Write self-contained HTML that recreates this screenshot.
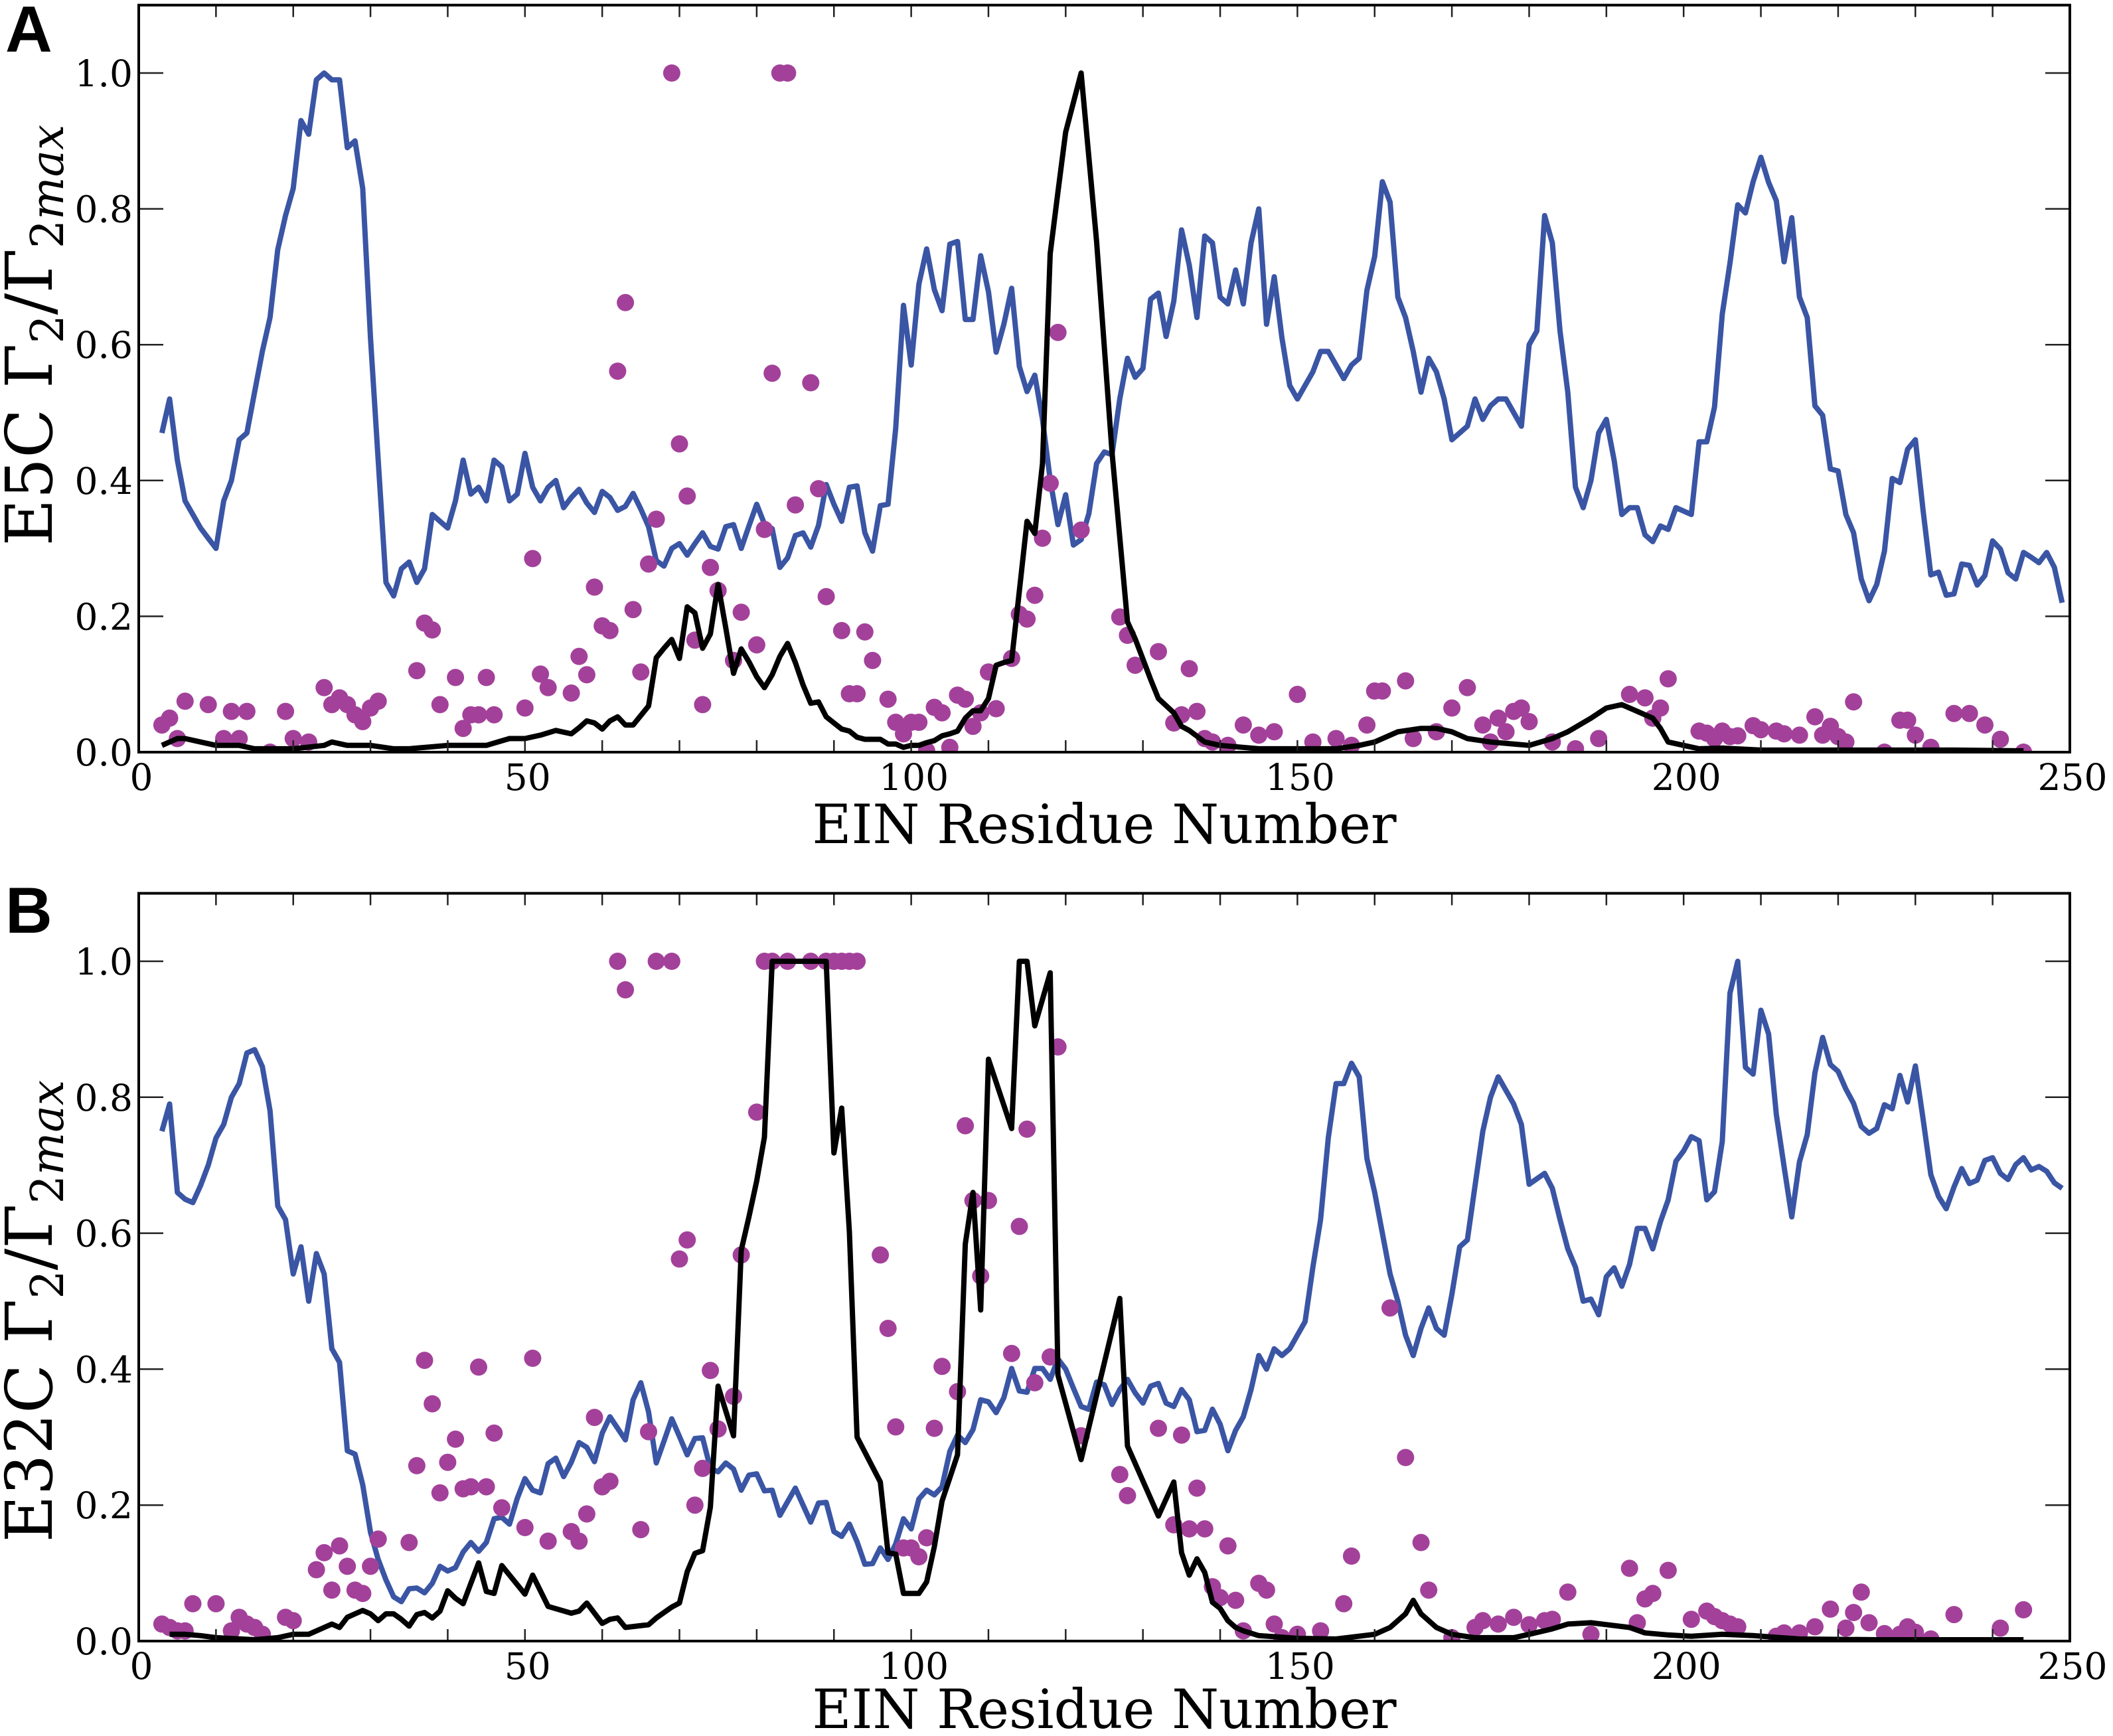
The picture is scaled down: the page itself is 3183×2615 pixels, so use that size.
<!DOCTYPE html>
<html><head><meta charset="utf-8"><style>
html,body{margin:0;padding:0;background:#fff;}
svg{display:block;}
text{font-family:"DejaVu Serif","Liberation Serif",serif;fill:#000;}
</style></head><body>
<svg id="fig" width="3183" height="2615" viewBox="0 0 3183 2615" xmlns="http://www.w3.org/2000/svg"></svg>
<script>
// ---------- Data ----------
const xTicksMajor = [0, 50, 100, 150, 200, 250];
const yTickLabels = ["0.0", "0.2", "0.4", "0.6", "0.8", "1.0"];
const yTickValues = [0, 0.2, 0.4, 0.6, 0.8, 1.0];

const blueAStart = 3;
const blueAVal = [.47,.52,.43,.37,.35,.33,.315,.30,.37,.40,.46,.47,.53,.59,.64,.74,.79,.83,.93,.91,.99,1.0,.99,.99,.89,.90,.83,.61,.43,.25,.23,.27,.28,.25,.27,.35,.34,.33,.37,.43,.38,.39,.37,.43,.42,.37,.38,.44,.39,.37,.39,
.40,.36,.375,.387,.367,.353,.384,.375,.356,.362,.381,.358,.332,.282,.274,.30,.307,.29,.307,.323,.303,.299,.332,.335,.30,.333,.365,.336,.329,.272,.286,.319,.323,.302,.334,.394,.365,.34,.39,.392,.323,.296,.363,.365,.477,.658,.57,.689,.741,.681,.65,.748,.752,.637,.637,.731,.678,.589,.63,.683,.568,.531,.555,.49,.401,.335,.379,.305,.313,.351,.425,.442,.438,.52,.58,.552,.565,.667,.676,.612,.664,.769,.717,
.64,.76,.75,.67,.66,.71,.66,.75,.80,.63,.70,.61,.54,.52,.54,.56,.59,.59,.57,.55,.57,.58,.68,.73,.84,.81,.67,.64,.59,.53,.58,.56,.52,.46,.47,.48,.52,.49,.51,.52,.52,.50,.48,.60,.62,.79,.75,.62,.53,.39,.36,.40,.47,.49,.43,.35,.36,.36,.32,.31,
.333,.328,.36,.355,.35,.457,.457,.508,.645,.72,.806,.794,.84,.876,.839,.812,.722,.787,.67,.64,.51,.496,.417,.414,.35,.323,.255,.223,.247,.296,.403,.397,.446,.46,.356,.261,.265,.231,.233,.277,.275,.246,.26,.311,.299,.264,.255,.294,.287,.279,.294,.272,.22];

const blackARes = [3,5,6,8,10,13,15,20,24,25,27,30,33,35,40,45,48,50,52,54,56,57,58,59,60,61,62,63,64,65,66,67,68,69,70,71,72,73,74,75,76,77,78,79,80,81,82,83,84,85,86,87,88,89,90,91,92,93,94,96,97,98,99,100,101,102,103,104,105,106,107,108,109,110,111,112,113,114,115,116,117,118,119,120,122,124,126,128,129,130,131,132,134,135,136,138,140,145,150,155,158,160,163,166,168,170,172,175,180,183,185,188,190,192,194,196,197,198,200,202,205,210,220,226,235,244];
const blackAVal = [.01,.02,.02,.015,.01,.01,.005,.005,.01,.015,.01,.01,.005,.005,.01,.01,.02,.02,.025,.032,.027,.036,.046,.043,.034,.046,.052,.04,.04,.054,.068,.139,.153,.166,.138,.214,.205,.153,.174,.247,.183,.116,.152,.133,.111,.095,.114,.141,.16,.132,.099,.072,.074,.052,.043,.034,.031,.022,.019,.019,.012,.012,.007,.01,.01,.014,.017,.024,.027,.031,.05,.061,.061,.079,.128,.132,.135,.237,.34,.322,.425,.734,.825,.913,1.0,.752,.442,.192,.167,.137,.107,.079,.058,.038,.032,.015,.01,.005,.005,.005,.01,.015,.03,.035,.035,.03,.02,.015,.01,.02,.03,.05,.065,.07,.06,.05,.035,.015,.01,.005,.006,.003,.003,.003,.003,.002];

const dotsARes = [3,4,5,6,9,11,12,13,14,17,19,20,22,24,25,26,27,28,29,30,31,36,37,38,39,41,42,43,44,45,46,50,51,52,53,56,57,58,59,60,61,62,63,64,65,66,67,69,70,71,72,73,74,75,77,78,80,81,82,83,84,85,87,88,89,91,92,93,94,95,97,98,99,100,101,102,103,104,105,106,107,108,109,110,111,113,114,115,116,117,118,119,122,127,128,129,132,134,135,136,137,138,139,141,143,145,147,150,152,155,157,159,160,161,164,165,168,170,172,174,175,176,177,178,179,180,183,186,189,193,195,196,197,198,202,203,204,205,206,207,209,210,212,213,215,217,218,219,220,221,222,226,228,229,230,232,235,237,239,241,244];
const dotsAVal = [.04,.05,.02,.075,.07,.02,.06,.02,.06,0,.06,.02,.015,.095,.07,.08,.07,.055,.045,.065,.075,.12,.19,.18,.07,.11,.035,.055,.055,.11,.055,.065,.285,.115,.095,.087,.141,.114,.243,.186,.179,.561,.662,.21,.118,.277,.343,1,.454,.377,.165,.07,.272,.238,.135,.206,.158,.328,.558,1,1,.364,.544,.388,.229,.179,.086,.086,.177,.135,.078,.044,.027,.044,.044,.002,.066,.058,.007,.084,.078,.038,.058,.118,.064,.138,.203,.196,.231,.315,.396,.618,.327,.199,.172,.128,.148,.043,.055,.123,.06,.02,.015,.01,.04,.025,.03,.085,.015,.02,.01,.04,.09,.09,.105,.02,.03,.065,.095,.04,.015,.05,.03,.06,.065,.045,.015,.005,.02,.085,.08,.05,.065,.108,.031,.028,.02,.031,.023,.024,.039,.033,.031,.027,.025,.052,.025,.038,.023,.015,.074,0,.047,.047,.025,.007,.057,.057,.04,.019,0];

const blueBStart = 3;
const blueBVal = [.75,.79,.66,.65,.645,.67,.70,.74,.76,.80,.82,.865,.87,.845,.78,.64,.62,.54,.58,.50,.57,.54,.43,.41,.28,.275,.23,.16,.12,.09,.065,
.058,.077,.078,.071,.085,.11,.103,.108,.131,.145,.132,.145,.18,.182,.172,.21,.239,.222,.218,.261,.269,.242,.263,.292,.285,.264,.306,.33,.313,.296,.355,.38,.337,.262,.294,.327,.301,.274,.298,.299,.254,.249,.262,.253,.222,.244,.246,.221,.222,.185,.205,.225,.20,.175,.203,.204,.161,.154,.172,.146,.113,.114,.137,.12,.143,.18,.165,.209,.222,.215,.227,.279,.303,.292,.311,.355,.352,.336,.358,.401,.368,.366,.401,.401,.385,.415,.4,.372,.345,.341,.381,.377,.348,.37,.385,.365,.35,.375,.379,.35,.345,.37,.355,.308,.31,.341,.319,
.28,.31,.33,.37,.42,.40,.43,.42,.43,.45,.47,.55,.62,.74,.82,.82,.85,.83,.71,.66,.60,.54,.50,.45,.42,.46,.49,.46,.45,.51,.58,.59,.67,.75,.80,.83,.81,.79,.76,
.672,.68,.688,.666,.62,.577,.55,.50,.503,.48,.536,.549,.522,.554,.607,.607,.577,.617,.649,.706,.721,.742,.736,.649,.661,.735,.953,1.0,.844,.834,.928,.893,.775,.698,.624,.705,.745,.836,.888,.848,.838,.812,.791,.757,.747,.754,.789,.783,.832,.793,.846,.768,.686,.654,.636,.668,.695,.673,.678,.707,.711,.688,.679,.701,.711,.693,.698,.691,.674,.666];

const blackBRes = [4,6,8,10,15,18,20,22,24,25,26,27,28,29,30,31,32,33,34,35,36,37,38,39,40,41,42,44,45,46,47,50,51,53,56,57,58,60,61,62,63,66,67,69,70,71,72,73,74,75,77,78,79,80,81,82,89,90,91,92,93,96,97,98,99,101,102,103,104,106,107,108,109,110,113,114,115,116,118,119,122,127,128,132,134,135,136,137,138,139,140,141,142,143,145,150,155,160,162,164,165,166,167,168,170,173,178,180,183,185,188,193,195,198,201,205,209,215,225,235,244];
const blackBVal = [.01,.01,.008,.005,.002,.005,.01,.01,.02,.025,.02,.035,.04,.045,.04,.03,.04,.04,.032,.022,.039,.042,.034,.044,.074,.063,.055,.115,.073,.07,.111,.069,.097,.051,.041,.044,.056,.026,.032,.034,.02,.024,.034,.05,.056,.102,.129,.133,.197,.375,.302,.575,.624,.677,.741,1,1,.718,.784,.602,.3,.234,.13,.128,.07,.07,.087,.139,.206,.274,.584,.66,.487,.856,.754,1,1,.905,.983,.391,.267,.504,.287,.184,.234,.13,.097,.121,.101,.057,.048,.03,.02,.015,.008,.004,.003,.01,.02,.04,.06,.04,.03,.02,.01,.005,.005,.01,.018,.025,.027,.02,.012,.009,.007,.01,.008,.003,.002,.002,.002];

const dotsBRes = [3,4,5,6,7,10,12,13,14,15,16,19,20,23,24,25,26,27,28,29,30,31,35,36,37,38,39,40,41,42,43,44,45,46,47,50,51,53,56,57,58,59,60,61,62,63,65,66,67,69,70,71,72,73,74,75,77,78,80,81,82,84,87,89,90,91,92,93,96,97,98,99,100,101,102,103,104,106,107,108,109,110,113,114,115,116,118,119,122,127,128,132,134,135,136,137,138,139,140,141,142,143,145,146,147,148,150,153,156,157,162,164,166,167,170,173,174,176,178,180,182,183,185,188,193,194,195,196,198,201,203,204,205,206,207,212,213,215,217,219,221,222,223,224,226,228,229,230,232,235,241,244];
const dotsBVal = [.025,.02,.015,.015,.055,.055,.015,.035,.025,.02,.01,.035,.03,.105,.13,.075,.14,.11,.075,.07,.11,.15,.145,.258,.413,.349,.218,.263,.297,.224,.227,.403,.227,.306,.196,.167,.416,.147,.161,.147,.187,.329,.227,.235,1,.958,.164,.308,1,1,.562,.59,.2,.254,.398,.312,.36,.568,.778,1,1,1,1,1,1,1,1,1,.568,.46,.315,.137,.137,.124,.152,.313,.404,.367,.758,.648,.537,.648,.423,.61,.753,.38,.418,.874,.302,.245,.214,.313,.171,.303,.165,.225,.165,.08,.064,.14,.06,.015,.085,.075,.025,.005,.01,.015,.055,.125,.49,.27,.145,.075,.005,.02,.03,.025,.035,.024,.03,.032,.072,.01,.107,.027,.062,.07,.104,.032,.044,.036,.03,.025,.021,.007,.012,.012,.021,.047,.019,.042,.072,.027,.011,.01,.021,.013,.003,.039,.019,.046];

// ---------- Drawing ----------
const NS = "http://www.w3.org/2000/svg";
const svg = document.getElementById("fig");
const X0 = 209, X1 = 3118, XMAX = 250;
const BLUE = "#3a55a4", PURPLE = "#a3419a";
function mk(tag, attrs, parent) {
  const e = document.createElementNS(NS, tag);
  for (const k in attrs) e.setAttribute(k, attrs[k]);
  (parent || svg).appendChild(e);
  return e;
}
function xScale(r) { return X0 + (X1 - X0) * r / XMAX; }

function panel(key, y0, y1v, letter, letterY, ylab, ylabY, blueStart, blueVal, blackRes, blackVal, dotRes, dotVal, titleY) {
  const yScale = v => y0 - (y0 - y1v) * v;
  const top = yScale(1.1);
  const g = mk("g", {});
  
  

  const cp = mk("clipPath", { id: "clip" + key }, g);
  mk("rect", { x: X0, y: top, width: X1 - X0, height: y0 - top }, cp);

  const plot = mk("g", { "clip-path": "url(#clip" + key + ")" }, g);
  
  

  let pts = blueVal.map((v, i) => xScale(blueStart + i).toFixed(1) + "," + yScale(v).toFixed(1)).join(" ");
  const bl = mk("polyline", { points: pts, fill: "none", stroke: BLUE, "stroke-width": 8, "stroke-linejoin": "round" }, plot);
  
  

  const dg = mk("g", { fill: PURPLE }, plot);
  
  
  dotRes.forEach((r, i) => {
    const c = mk("circle", { cx: xScale(r).toFixed(1), cy: yScale(dotVal[i]).toFixed(1), r: 13 }, dg);
    
    
  });

  pts = blackRes.map((r, i) => xScale(r).toFixed(1) + "," + yScale(blackVal[i]).toFixed(1)).join(" ");
  const kl = mk("polyline", { points: pts, fill: "none", stroke: "#000", "stroke-width": 8, "stroke-linejoin": "round" }, plot);
  
  

  const tg = mk("g", { stroke: "#222", "stroke-width": 2.5 }, g);
  
  
  for (let r = 10; r < XMAX; r += 10) {
    const x = xScale(r);
    mk("line", { x1: x, y1: y0, x2: x, y2: y0 - 18 }, tg);
    mk("line", { x1: x, y1: top, x2: x, y2: top + 18 }, tg);
  }
  yTickValues.forEach(v => {
    if (v === 0) return;
    const y = yScale(v);
    mk("line", { x1: X0, y1: y, x2: X0 + 37, y2: y }, tg);
    mk("line", { x1: X1, y1: y, x2: X1 - 37, y2: y }, tg);
  });

  const fr = mk("rect", { x: X0, y: top, width: X1 - X0, height: y0 - top, fill: "none", stroke: "#000", "stroke-width": 4 }, g);
  
  

  yTickValues.forEach((v, i) => {
    const t = mk("text", { x: 200, y: yScale(v) + 20, "text-anchor": "end", "font-size": 55 }, g);
    t.textContent = yTickLabels[i];
    
    
  });
  xTicksMajor.forEach(r => {
    const t = mk("text", { x: xScale(r) + 4, y: y0 + 57, "text-anchor": "middle", "font-size": 55 }, g);
    t.textContent = String(r);
    
    
  });

  const xt = mk("text", { x: (X0 + X1) / 2, y: titleY, "text-anchor": "middle", "font-size": 81 }, g);
  xt.textContent = "EIN Residue Number";
  
  

  const yt = mk("text", { x: 0, y: 0, "text-anchor": "middle", "font-size": 97, transform: "translate(78," + ylabY + ") rotate(-90)" }, g);
  
  
  const parts = [[ylab + " Γ", 0, null], ["2", 17, 68], ["/Γ", -17, null], ["2", 17, 68], ["max", 0, 68]];
  parts.forEach(p => {
    const s = mk("tspan", {}, yt);
    s.textContent = p[0];
    if (p[1] !== 0) s.setAttribute("dy", p[1]);
    if (p[2]) s.setAttribute("font-size", p[2]);
    if (p[0] === "max") s.setAttribute("font-style", "italic");
  });

  const L = mk("text", { x: 8, y: letterY, "font-size": 98, "font-weight": "bold" }, g);
  L.setAttribute("style", "font-family:'Liberation Sans',Arial,sans-serif");
  L.textContent = letter;
  
  
}

panel("a", 1133, 110, "A", 78, "E5C", 505, blueAStart, blueAVal, blackARes, blackAVal, dotsARes, dotsAVal, 1270);
panel("b", 2472, 1448, "B", 1405, "E32C", 1975, blueBStart, blueBVal, blackBRes, blackBVal, dotsBRes, dotsBVal, 2603);
</script>
</body></html>
